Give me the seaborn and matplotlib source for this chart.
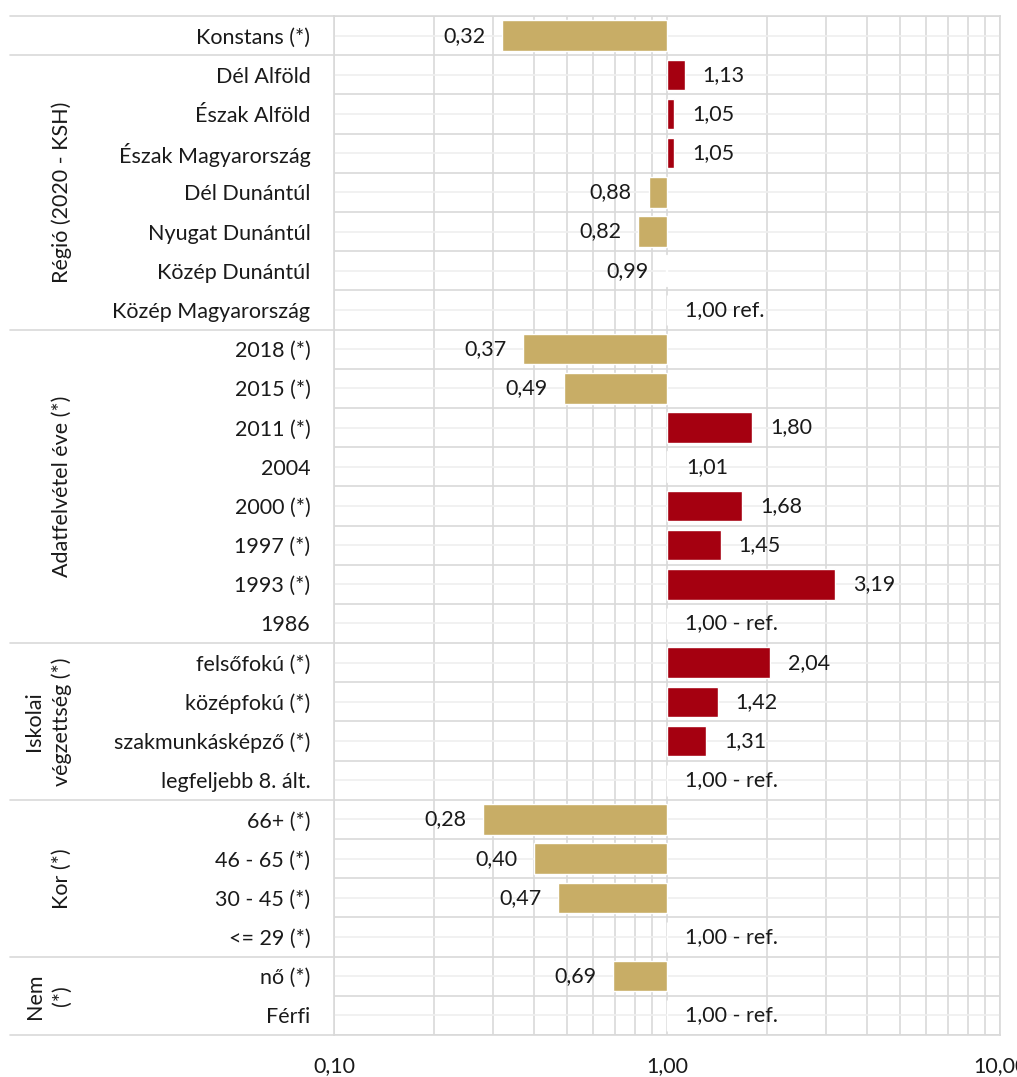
import numpy as np
import pandas as pd
import matplotlib.pyplot as plt
import seaborn as sns

# Row labels, top to bottom
CATEGORIES = [
    "Konstans (*)",
    "Dél Alföld", "Észak Alföld", "Észak Magyarország", "Dél Dunántúl",
    "Nyugat Dunántúl", "Közép Dunántúl", "Közép Magyarország",
    "2018 (*)", "2015 (*)", "2011 (*)", "2004", "2000 (*)", "1997 (*)",
    "1993 (*)", "1986",
    "felsőfokú (*)", "középfokú (*)", "szakmunkásképző (*)", "legfeljebb 8. ált.",
    "66+ (*)", "46 - 65 (*)", "30 - 45 (*)", "<= 29 (*)",
    "nő (*)", "Férfi",
]

# Odds ratios
ODDS = [
    0.32,
    1.13, 1.05, 1.05, 0.88, 0.82, 0.99, 1.00,
    0.37, 0.49, 1.80, 1.01, 1.68, 1.45, 3.19, 1.00,
    2.04, 1.42, 1.31, 1.00,
    0.28, 0.40, 0.47, 1.00,
    0.69, 1.00,
]

VALUE_TEXT = [
    "0,32",
    "1,13", "1,05", "1,05", "0,88", "0,82", "0,99", "1,00 ref.",
    "0,37", "0,49", "1,80", "1,01", "1,68", "1,45", "3,19", "1,00 - ref.",
    "2,04", "1,42", "1,31", "1,00 - ref.",
    "0,28", "0,40", "0,47", "1,00 - ref.",
    "0,69", "1,00 - ref.",
]

# Variable groups (after the constant row)
GROUP_NAMES = ["Régió (2020 - KSH)", "Adatfelvétel éve (*)",
               "Iskolai\nvégzettség (*)", "Kor (*)", "Nem\n(*)"]
GROUP_SIZES = [7, 8, 4, 4, 2]

X_TICKS = [0.1, 1.0, 10.0]
X_TICK_TEXT = ["0,10", "1,00", "10,00"]

GOLD = "#C8AD66"
RED = "#A50010"
GRID = "#d9d9d9"
GRID_LIGHT = "#efefef"
TXT = "#1a1a1a"
FS = 15.5

sns.set_theme(style="white")
plt.rcParams["font.family"] = ["Lato", "DejaVu Sans"]

df = pd.DataFrame({"label": CATEGORIES, "odds": ODDS})
df["logodds"] = np.log10(df["odds"])
df["dir"] = np.where(df["odds"] >= 1, "up", "down")

fig = plt.figure(figsize=(10.17, 10.77), dpi=100)
ax = fig.add_axes([334 / 1017, 1 - 1035 / 1077, 666 / 1017, 1019 / 1077])

sns.barplot(data=df, x="logodds", y="label", hue="dir", order=CATEGORIES,
            palette={"up": RED, "down": GOLD}, dodge=False, legend=False,
            width=0.78, saturation=1, ax=ax, orient="h")

n = len(CATEGORIES)
ax.set_xlim(-1, 1)
ax.set_ylim(n - 0.5, -0.5)

# log-style ticks and grid
ax.set_xticks(np.log10(X_TICKS))
ax.set_xticklabels(X_TICK_TEXT, fontsize=FS, color=TXT)
minor_x = [np.log10(m * d) for d in (0.1, 1.0) for m in range(2, 10)]
ax.set_xticks(minor_x, minor=True)
ax.set_yticks(np.arange(-0.5, n), minor=True)
ax.tick_params(axis="x", which="both", length=0, pad=15)
ax.tick_params(axis="y", which="both", length=0, pad=17)
ax.set_yticklabels(CATEGORIES, fontsize=FS, color=TXT)
ax.set_xlabel("")
ax.set_ylabel("")

ax.grid(False)
ax.grid(axis="x", which="both", color=GRID, lw=1.2)
ax.grid(axis="y", which="minor", color=GRID, lw=1.2)
ax.grid(axis="y", which="major", color=GRID_LIGHT, lw=1.2)
ax.set_axisbelow(True)
for sp in ax.spines.values():
    sp.set_color(GRID)
    sp.set_linewidth(1.2)

# value labels
for i, (v, txt) in enumerate(zip(df["logodds"], VALUE_TEXT)):
    if v >= 0:
        ax.annotate(txt, xy=(v, i), xytext=(13, 0), textcoords="offset points",
                    ha="left", va="center", fontsize=FS, color=TXT)
    else:
        ax.annotate(txt, xy=(v, i), xytext=(-12, 0), textcoords="offset points",
                    ha="right", va="center", fontsize=FS, color=TXT)

# group separators and rotated group names in the label area
trans = ax.get_yaxis_transform()
x_left = (10 - 334) / 666
bounds = np.cumsum([1] + GROUP_SIZES) - 0.5
ax.plot([x_left, 0], [-0.5, -0.5], color=GRID, lw=1.2, transform=trans, clip_on=False)
for b in bounds:
    ax.plot([x_left, 0], [b, b], color=GRID, lw=1.2, transform=trans, clip_on=False)

start = 1
for name, size in zip(GROUP_NAMES, GROUP_SIZES):
    mid = start + (size - 1) / 2
    ax.text((72 - 334) / 666, mid, name, transform=trans, rotation=90,
            ha="right", va="center", multialignment="center",
            fontsize=FS, color=TXT, linespacing=1.45)
    start += size

fig.savefig("out.png", dpi=100, facecolor="white")
